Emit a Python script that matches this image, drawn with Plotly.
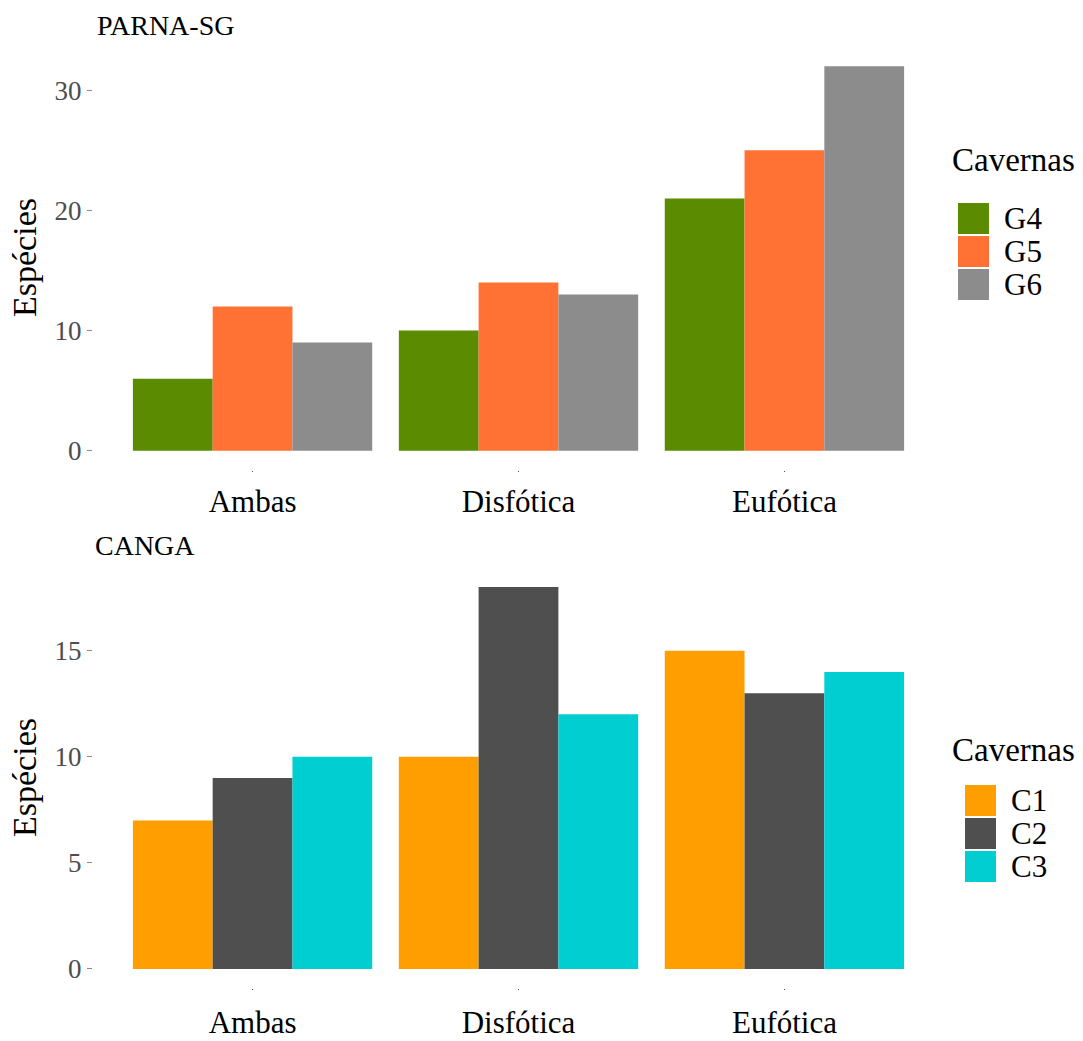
import plotly.graph_objects as go

# Habitat categories shared by both panels
categories = ["Ambas", "Disfótica", "Eufótica"]

# PARNA-SG caves: species counts per category
parna_caves = ["G4", "G5", "G6"]
parna_values = {
    "G4": [6, 10, 21],
    "G5": [12, 14, 25],
    "G6": [9, 13, 32],
}
parna_colors = {"G4": "#5A8B00", "G5": "#FF7233", "G6": "#8C8C8C"}

# CANGA caves: species counts per category
canga_caves = ["C1", "C2", "C3"]
canga_values = {
    "C1": [7, 10, 15],
    "C2": [9, 18, 13],
    "C3": [10, 12, 14],
}
canga_colors = {"C1": "#FF9E00", "C2": "#4F4F4F", "C3": "#00CED1"}

parna_ticks = [0, 10, 20, 30]
canga_ticks = [0, 5, 10, 15]

W, H = 1083, 1041
FONT = "Liberation Serif, Times New Roman, serif"


def px(x):
    return x / W


def py(y):
    return 1 - y / H


fig = go.Figure()

for cave in parna_caves:
    fig.add_trace(go.Bar(
        x=categories, y=parna_values[cave], name=cave,
        marker=dict(color=parna_colors[cave], line=dict(width=0)),
        xaxis="x", yaxis="y", showlegend=False,
    ))
for cave in canga_caves:
    fig.add_trace(go.Bar(
        x=categories, y=canga_values[cave], name=cave,
        marker=dict(color=canga_colors[cave], line=dict(width=0)),
        xaxis="x2", yaxis="y2", showlegend=False,
    ))

xdom = [px(93), px(944)]
xaxis_common = dict(
    domain=xdom, range=[-0.6, 2.6], type="category",
    showgrid=False, zeroline=False, showline=False,
    ticks="outside", ticklen=1, tickwidth=1, tickcolor="#555555",
    tickfont=dict(family=FONT, size=31, color="black"),
    automargin=False,
)
yaxis_common = dict(
    showgrid=False, zeroline=False, showline=False,
    ticks="outside", ticklen=5, tickwidth=1, tickcolor="#8a8a8a",
    tickfont=dict(family=FONT, size=27, color="#4D4D4D"),
    automargin=False,
)

fig.update_layout(
    width=W, height=H,
    margin=dict(l=0, r=0, t=0, b=0),
    paper_bgcolor="white", plot_bgcolor="white",
    barmode="group", bargap=0.1, bargroupgap=0,
    xaxis=dict(**xaxis_common, anchor="y", ticklabelstandoff=3),
    yaxis=dict(**yaxis_common, domain=[py(470), py(47)], range=[-1.6, 33.6],
               tickvals=parna_ticks, anchor="x"),
    xaxis2=dict(**xaxis_common, anchor="y2", ticklabelstandoff=6),
    yaxis2=dict(**yaxis_common, domain=[py(988), py(568)], range=[-0.9, 18.9],
                tickvals=canga_ticks, anchor="x2"),
    showlegend=False,
)

annotations = []
shapes = []

# Panel titles and y-axis titles
for title, tx, ty, axis_center in [("PARNA-SG", 95, 25, 258), ("CANGA", 93, 545, 778)]:
    annotations.append(dict(
        text=title, x=px(tx), y=py(ty), xref="paper", yref="paper",
        xanchor="left", yanchor="middle", showarrow=False,
        font=dict(family=FONT, size=28, color="black"),
    ))
    annotations.append(dict(
        text="Espécies", x=px(24), y=py(axis_center), xref="paper", yref="paper",
        xanchor="center", yanchor="middle", textangle=-90, showarrow=False,
        font=dict(family=FONT, size=34, color="black"),
    ))

# Legends: title, colour keys and labels
legend_specs = [
    (parna_caves, parna_colors, 950, 160, 958, 203, 1003),
    (canga_caves, canga_colors, 950, 750, 965, 785, 1010),
]
key = 31
step = 33
for caves, colors, tx, ty, kx, ky, lx in legend_specs:
    annotations.append(dict(
        text="Cavernas", x=px(tx), y=py(ty), xref="paper", yref="paper",
        xanchor="left", yanchor="middle", showarrow=False,
        font=dict(family=FONT, size=33, color="black"),
    ))
    for i, cave in enumerate(caves):
        top = ky + i * step
        shapes.append(dict(
            type="rect", xref="paper", yref="paper",
            x0=px(kx), x1=px(kx + key), y0=py(top + key), y1=py(top),
            fillcolor=colors[cave], line=dict(width=0),
        ))
        annotations.append(dict(
            text=cave, x=px(lx - 1), y=py(top + key / 2), xref="paper", yref="paper",
            xanchor="left", yanchor="middle", showarrow=False,
            font=dict(family=FONT, size=31, color="black"),
        ))

fig.update_layout(annotations=annotations, shapes=shapes)

fig.write_html("out.html")
